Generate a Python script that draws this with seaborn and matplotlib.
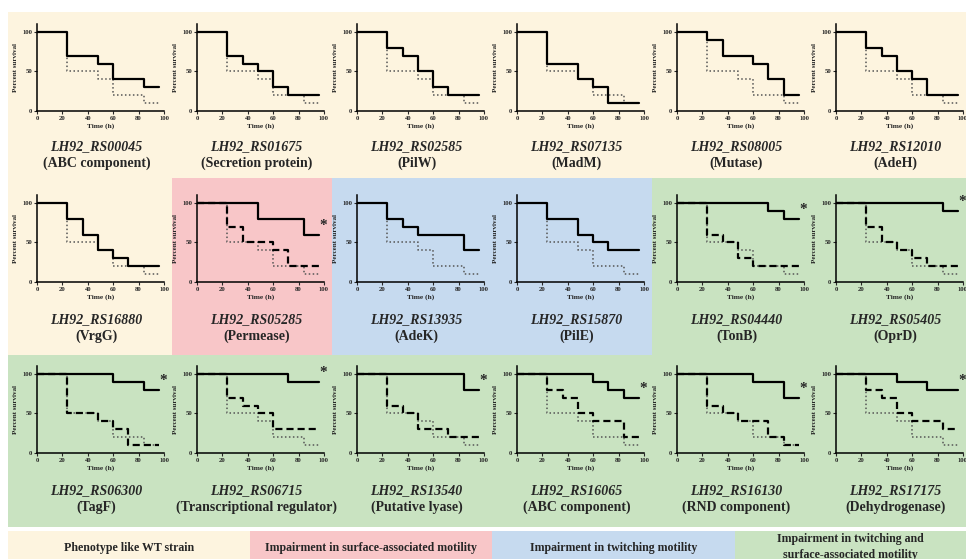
import matplotlib
matplotlib.use("Agg")
import matplotlib.pyplot as plt
from matplotlib.patches import Rectangle
import seaborn as sns
import pandas as pd

sns.set_style("ticks")
plt.rcParams["font.family"] = ["Liberation Serif", "DejaVu Serif"]

# ---------------- data ----------------
TIMES = [0, 24, 36, 48, 60, 72, 84, 96]
WT = [100, 50, 50, 40, 20, 20, 10, 10]

genes = ["LH92_RS00045", "LH92_RS01675", "LH92_RS02585", "LH92_RS07135", "LH92_RS08005", "LH92_RS12010",
         "LH92_RS16880", "LH92_RS05285", "LH92_RS13935", "LH92_RS15870", "LH92_RS04440", "LH92_RS05405",
         "LH92_RS06300", "LH92_RS06715", "LH92_RS13540", "LH92_RS16065", "LH92_RS16130", "LH92_RS17175"]
products = ["(ABC component)", "(Secretion protein)", "(PilW)", "(MadM)", "(Mutase)", "(AdeH)",
            "(VrgG)", "(Permease)", "(AdeK)", "(PilE)", "(TonB)", "(OprD)",
            "(TagF)", "(Transcriptional regulator)", "(Putative lyase)", "(ABC component)",
            "(RND component)", "(Dehydrogenase)"]

mutant = [
    [100, 70, 70, 60, 40, 40, 30, 30],
    [100, 70, 60, 50, 30, 20, 20, 20],
    [100, 80, 70, 50, 30, 20, 20, 20],
    [100, 60, 60, 40, 30, 10, 10, 10],
    [100, 90, 70, 70, 60, 40, 20, 20],
    [100, 80, 70, 50, 40, 20, 20, 20],
    [100, 80, 60, 40, 30, 20, 20, 20],
    [100, 100, 100, 80, 80, 80, 60, 60],
    [100, 80, 70, 60, 60, 60, 40, 40],
    [100, 80, 80, 60, 50, 40, 40, 40],
    [100, 100, 100, 100, 100, 90, 80, 80],
    [100, 100, 100, 100, 100, 100, 90, 90],
    [100, 100, 100, 100, 90, 90, 80, 80],
    [100, 100, 100, 100, 100, 90, 90, 90],
    [100, 100, 100, 100, 100, 100, 80, 80],
    [100, 100, 100, 100, 90, 80, 70, 70],
    [100, 100, 100, 100, 90, 90, 70, 70],
    [100, 100, 100, 90, 90, 80, 80, 80],
]

# third (dashed) curve, None where absent
dashed = [
    None, None, None, None, None, None,
    None, [100, 70, 50, 50, 40, 20, 20, 20], None, None,
    [100, 60, 50, 30, 20, 20, 20, 20], [100, 70, 50, 40, 30, 20, 20, 20],
    [100, 50, 50, 40, 30, 10, 10, 10], [100, 70, 60, 50, 30, 30, 30, 30],
    [100, 60, 50, 30, 30, 20, 20, 20], [100, 80, 70, 50, 40, 40, 20, 20],
    [100, 60, 50, 40, 40, 20, 10, 10], [100, 80, 70, 50, 40, 40, 30, 30],
]
significant = [False] * 7 + [True, False, False, True, True] + [True] * 6

legend_labels = ["Phenotype like WT strain", "Impairment in surface-associated motility",
                 "Impairment in twitching motility", "Impairment in twitching and\nsurface-associated motility"]

# ---------------- layout ----------------
W, H = 966, 559
YEL, PINK, BLUE, GREEN = "#FDF4DF", "#F8C6C8", "#C6DAEF", "#C9E3C1"

fig = plt.figure(figsize=(W / 100, H / 100), dpi=100)
fig.patch.set_facecolor("white")


def rect(x0, y0, x1, y1, color):
    fig.add_artist(Rectangle((x0 / W, 1 - y1 / H), (x1 - x0) / W, (y1 - y0) / H,
                             transform=fig.transFigure, facecolor=color, edgecolor="none", zorder=0))


# backgrounds
rect(8, 12, W, 178, YEL)
rect(8, 178, 172, 355, YEL)
rect(172, 178, 332, 355, PINK)
rect(332, 178, 652, 355, BLUE)
rect(652, 178, W, 355, GREEN)
rect(8, 355, W, 527, GREEN)

# legend bar
leg_x = [8, 250, 492, 735, W]
leg_cols = [YEL, PINK, BLUE, GREEN]
for i in range(4):
    rect(leg_x[i], 531, leg_x[i + 1], H, leg_cols[i])
    fig.text((leg_x[i] + leg_x[i + 1]) / 2 / W, 1 - (548 if i < 3 else 547) / H, legend_labels[i],
             ha="center", va="center", fontsize=8.6, fontweight="bold", linespacing=1.45)

col_left = [37, 197, 357, 517, 677, 836]
row_bottom = [111, 282, 453]
AX_W, AX_H = 127, 87
title_off = [36, 38, 38]

for k in range(18):
    r, c = divmod(k, 6)
    x0 = col_left[c]
    yb = row_bottom[r]
    ax = fig.add_axes([x0 / W, 1 - yb / H, AX_W / W, AX_H / H])
    ax.set_facecolor("none")
    ax.patch.set_alpha(0)

    df_wt = pd.DataFrame({"t": TIMES, "s": WT})
    sns.lineplot(data=df_wt, x="t", y="s", ax=ax, drawstyle="steps-post", color="#555555",
                 linestyle=(0, (1, 1.6)), linewidth=1.1, errorbar=None, zorder=2)
    if dashed[k] is not None:
        df_d = pd.DataFrame({"t": TIMES, "s": dashed[k]})
        sns.lineplot(data=df_d, x="t", y="s", ax=ax, drawstyle="steps-post", color="black",
                     linestyle=(0, (3.2, 1.8)), linewidth=1.6, errorbar=None, zorder=3)
    df_m = pd.DataFrame({"t": TIMES, "s": mutant[k]})
    sns.lineplot(data=df_m, x="t", y="s", ax=ax, drawstyle="steps-post", color="black",
                 linestyle="-", linewidth=1.6, errorbar=None, zorder=4)

    if significant[k]:
        ax.text(99, mutant[k][-1] + 12, "*", ha="center", va="center", fontsize=11,
                fontweight="bold", clip_on=False)

    ax.set_xlim(0, 100)
    ax.set_ylim(0, 110)
    ax.set_xticks([0, 20, 40, 60, 80, 100])
    ax.set_yticks([0, 50, 100])
    ax.tick_params(axis="both", length=2, width=0.8, labelsize=4.8, pad=1.5)
    for lab in ax.get_xticklabels() + ax.get_yticklabels():
        lab.set_fontweight("bold")
    ax.set_xlabel("Time (h)", fontsize=5.3, fontweight="bold", labelpad=2)
    ax.set_ylabel("Percent survival", fontsize=5, fontweight="bold", labelpad=3)
    for side in ["top", "right"]:
        ax.spines[side].set_visible(False)
    for side in ["left", "bottom"]:
        ax.spines[side].set_linewidth(1.1)
        ax.spines[side].set_color("black")

    cx = (x0 + AX_W / 2 - 4) / W
    fig.text(cx, 1 - (yb + title_off[r]) / H, genes[k], ha="center", va="center",
             fontsize=10, fontweight="bold", fontstyle="italic")
    fig.text(cx, 1 - (yb + title_off[r] + 16) / H, products[k], ha="center", va="center",
             fontsize=10, fontweight="bold")

fig.savefig("out.png", dpi=100, facecolor="white")
